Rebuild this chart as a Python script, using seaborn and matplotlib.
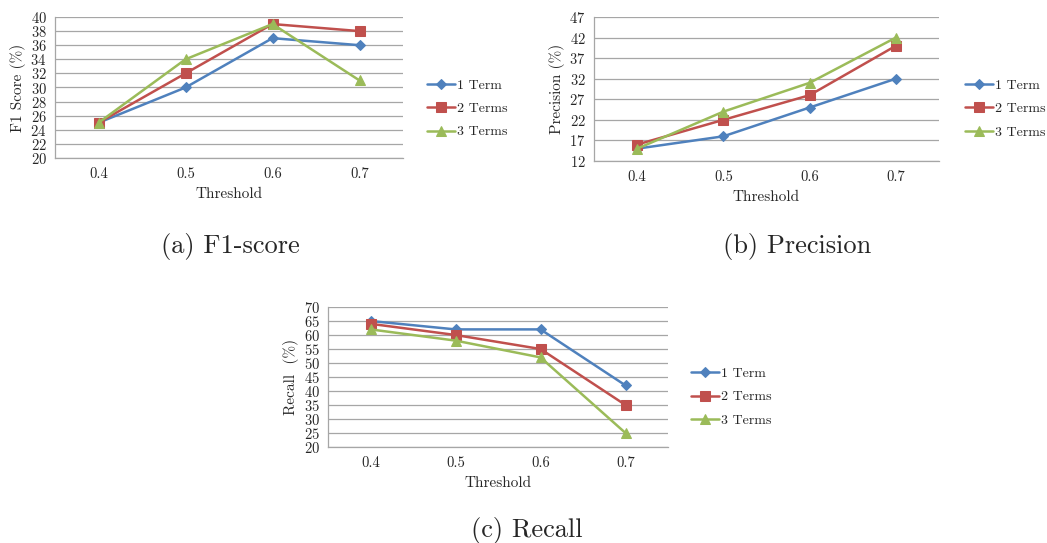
import numpy as np
import pandas as pd
import matplotlib
matplotlib.use("Agg")
import matplotlib.pyplot as plt
import seaborn as sns

# data
thresholds = ["0.4", "0.5", "0.6", "0.7"]
series_names = ["1 Term", "2 Terms", "3 Terms"]

f1_1term = [25, 30, 37, 36]
f1_2terms = [25, 32, 39, 38]
f1_3terms = [25, 34, 39, 31]

prec_1term = [15, 18, 25, 32]
prec_2terms = [16, 22, 28, 40]
prec_3terms = [15, 24, 31, 42]

rec_1term = [65, 62, 62, 42]
rec_2terms = [64, 60, 55, 35]
rec_3terms = [62, 58, 52, 25]

colors = ["#4F81BD", "#C0504D", "#9BBB59"]
markers = ["D", "s", "^"]
msizes = [5, 6.5, 7]

sns.set_style("white")
plt.rcParams["font.family"] = ["cmr10", "DejaVu Serif"]
plt.rcParams["axes.formatter.use_mathtext"] = True
plt.rcParams["mathtext.fontset"] = "cm"

W, H = 1047, 543
fig = plt.figure(figsize=(W / 100, H / 100), dpi=100)


def make_df(vals):
    rows = []
    for name, v in zip(series_names, vals):
        for t, y in zip(thresholds, v):
            rows.append({"Threshold": t, "value": y, "series": name})
    return pd.DataFrame(rows)


def panel(box, vals, yticks, ylabel, legend_xy, ticks_below=False):
    l, r, t, b = box
    ax = fig.add_axes([l / W, 1 - b / H, (r - l) / W, (b - t) / H])
    df = make_df(vals)
    for i, name in enumerate(series_names):
        sub = df[df["series"] == name]
        sns.lineplot(data=sub, x="Threshold", y="value", ax=ax, color=colors[i],
                     marker=markers[i], markersize=msizes[i], linewidth=1.8,
                     markeredgecolor=colors[i], label=name)
    ax.set_xlim(-0.5, 3.5)
    ax.set_ylim(yticks[0], yticks[-1])
    ax.set_yticks(yticks)
    ax.yaxis.grid(True, color="#A6A6A6", linewidth=0.9)
    ax.set_axisbelow(True)
    for s in ["top", "right"]:
        ax.spines[s].set_visible(False)
    for s in ["left", "bottom"]:
        ax.spines[s].set_color("#A6A6A6")
        ax.spines[s].set_linewidth(0.9)
    ax.tick_params(axis="both", labelsize=10.5, length=0)
    ax.tick_params(axis="x", pad=7)
    ax.tick_params(axis="y", pad=6)
    if ticks_below:
        ax.set_xticks([-0.5, 0.5, 1.5, 2.5, 3.5], minor=True)
        ax.tick_params(axis="x", which="minor", length=4, color="#A6A6A6", direction="out")
    ax.set_xlabel("Threshold", fontsize=11, labelpad=4)
    ax.set_ylabel(ylabel, fontsize=11, labelpad=3)
    lx, ly = legend_xy
    ax.legend(loc="center left", frameon=False, fontsize=10,
              bbox_to_anchor=((lx - l) / (r - l), (b - ly) / (b - t)),
              handlelength=2.0, handletextpad=0.15, labelspacing=0.75,
              borderaxespad=0, borderpad=0)
    return ax


panel((55, 403, 17, 158), [f1_1term, f1_2terms, f1_3terms],
      np.arange(20, 41, 2), "F1 Score (%)", (427, 109))
panel((594, 939, 17, 161), [prec_1term, prec_2terms, prec_3terms],
      np.arange(12, 48, 5), "Precision (%)", (965, 109), ticks_below=True)
panel((328, 668, 307, 447), [rec_1term, rec_2terms, rec_3terms],
      np.arange(20, 71, 5), "Recall  (%)", (691, 397))

fig.text(230 / W, 1 - 246 / H, "(a) F1-score", ha="center", va="center", fontsize=19)
fig.text(797 / W, 1 - 246 / H, "(b) Precision", ha="center", va="center", fontsize=19)
fig.text(527 / W, 1 - 530 / H, "(c) Recall", ha="center", va="center", fontsize=19)

fig.savefig("out.png", dpi=100)
